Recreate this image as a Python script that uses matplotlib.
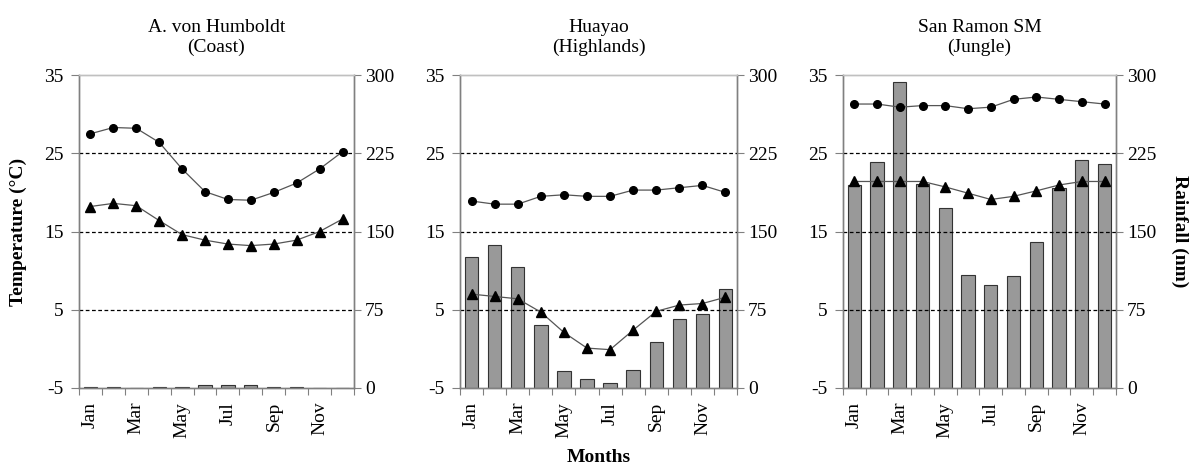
import matplotlib
matplotlib.use("Agg")
import matplotlib.pyplot as plt
import numpy as np

plt.rcParams['font.family'] = ['Liberation Serif', 'DejaVu Serif']
plt.rcParams['axes.unicode_minus'] = False

months = ['Jan', 'Feb', 'Mar', 'Apr', 'May', 'Jun', 'Jul', 'Aug', 'Sep', 'Oct', 'Nov', 'Dec']
titles = ['A. von Humboldt\n(Coast)', 'Huayao\n(Highlands)', 'San Ramon SM\n(Jungle)']

tmax_coast = [27.5, 28.3, 28.2, 26.4, 23.0, 20.1, 19.1, 19.0, 20.0, 21.2, 23.0, 25.2]
tmin_coast = [18.2, 18.6, 18.3, 16.4, 14.6, 13.9, 13.4, 13.2, 13.4, 13.9, 15.0, 16.6]
rain_coast = [1, 1, 0, 1, 1, 3, 3, 3, 1, 1, 0, 0]

tmax_high = [18.9, 18.5, 18.5, 19.5, 19.7, 19.5, 19.5, 20.3, 20.3, 20.6, 20.9, 20.0]
tmin_high = [7.0, 6.7, 6.4, 4.7, 2.1, 0.1, -0.1, 2.4, 4.8, 5.6, 5.8, 6.6]
rain_high = [126, 137, 116, 60, 16, 9, 5, 17, 44, 66, 71, 95]

tmax_jungle = [31.3, 31.3, 30.9, 31.1, 31.1, 30.7, 30.9, 31.9, 32.2, 31.9, 31.6, 31.3]
tmin_jungle = [21.4, 21.4, 21.4, 21.4, 20.7, 19.9, 19.1, 19.5, 20.2, 20.95, 21.4, 21.4]
rain_jungle = [195, 217, 293, 196, 173, 108, 99, 107, 140, 192, 219, 215]

tmax_all = [tmax_coast, tmax_high, tmax_jungle]
tmin_all = [tmin_coast, tmin_high, tmin_jungle]
rain_all = [rain_coast, rain_high, rain_jungle]

fig = plt.figure(figsize=(11.93, 4.67), dpi=100)
lefts = [0.0662, 0.3856, 0.7066]
widths = [0.2305, 0.2322, 0.2288]
bottom, height = 0.1692, 0.670
spine_col = '#808080'
fs = 14

x = np.arange(12)
for i in range(3):
    ax = fig.add_axes([lefts[i], bottom, widths[i], height])
    ax2 = ax.twinx()
    ax.set_zorder(ax2.get_zorder() + 1)
    ax.patch.set_visible(False)
    ax2.bar(x, rain_all[i], width=0.58, color='#999999', edgecolor='#333333', linewidth=0.8)
    ax2.set_ylim(0, 300)
    ax2.set_yticks([0, 75, 150, 225, 300])
    ax.set_ylim(-5, 35)
    ax.set_yticks([-5, 5, 15, 25, 35])
    for yv in [5, 15, 25]:
        ax.axhline(yv, color='black', linestyle=(0, (3, 2)), linewidth=0.9, zorder=1)
    ax.plot(x, tmax_all[i], color='#555555', linewidth=0.9, marker='o', markersize=5.5,
            markerfacecolor='black', markeredgecolor='black', zorder=3)
    ax.plot(x, tmin_all[i], color='#555555', linewidth=0.9, marker='^', markersize=6.5,
            markerfacecolor='black', markeredgecolor='black', zorder=3)
    ax.set_xlim(-0.5, 11.5)
    ax.set_xticks(np.arange(-0.5, 12, 1))
    ax.set_xticklabels([])
    ax.set_xticks(x[::2], minor=True)
    ax.set_xticklabels(months[::2], minor=True, rotation=90, fontsize=fs)
    ax.tick_params(axis='x', which='minor', length=0, pad=10)
    ax.tick_params(axis='x', which='major', length=5, direction='out', color=spine_col)
    ax.tick_params(axis='y', labelsize=fs, length=6, pad=5, direction='out', color=spine_col)
    ax2.tick_params(axis='y', labelsize=fs, length=5, pad=3, direction='out', color=spine_col)
    for a in (ax, ax2):
        for s in a.spines.values():
            s.set_color(spine_col)
            s.set_linewidth(1.0)
    ax2.spines['top'].set_color('#c0c0c0')
    ax.spines['top'].set_color('#c0c0c0')
    ax.set_title(titles[i], fontsize=fs, pad=17, linespacing=1.2)
    if i == 0:
        ax.set_ylabel('Temperature (°C)', fontsize=fs, fontweight='bold', va='center')
        ax.yaxis.set_label_coords(-0.222, 0.5)
    if i == 2:
        ax2.set_ylabel('Rainfall (nm)', fontsize=fs, fontweight='bold', rotation=270, va='center')
        ax2.yaxis.set_label_coords(1.234, 0.5)
    if i == 1:
        ax.set_xlabel('Months', fontsize=fs, fontweight='bold', labelpad=8)

fig.savefig('out.png', dpi=100)
